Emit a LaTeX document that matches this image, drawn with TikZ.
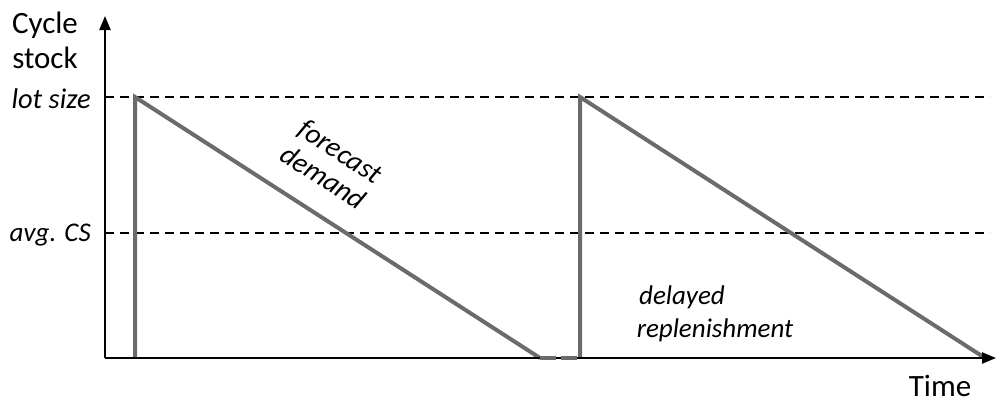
\documentclass[tikz,border=0pt]{standalone}
\usepackage{fontspec}
\setmainfont{Carlito}
\usetikzlibrary{arrows.meta}
\definecolor{saw}{HTML}{6B6B6B}
\tikzset{
  axis/.style={line width=2.2pt,-{Triangle[length=14pt,width=11pt]}},
  refline/.style={line width=1.8pt,dash pattern=on 9pt off 6pt},
  sawline/.style={line width=4pt,draw=saw},
  lbl/.style={font=\fontsize{31}{35}\selectfont,inner sep=0pt},
  ilbl/.style={font=\fontsize{27}{31}\selectfont\itshape,inner sep=0pt},
}
\begin{document}
\begin{tikzpicture}[x=1pt,y=-1pt]
\useasboundingbox (0,0) rectangle (996,407);
% coordinates
\coordinate (o) at (105,358);
\coordinate (ytop) at (105,16);
\coordinate (xend) at (996,358);
\coordinate (l1) at (105,97);
\coordinate (l2) at (990,97);
\coordinate (a1) at (105,233);
\coordinate (a2) at (990,233);
\coordinate (b1) at (135,358);
\coordinate (t1) at (135,97);
\coordinate (e1) at (540,358);
\coordinate (g1) at (578,358);
\coordinate (b2) at (580,358);
\coordinate (t2) at (580,97);
\coordinate (e2) at (985,358);
% reference lines
\draw[refline] (l1) -- (l2);
\draw[refline] (a1) -- (a2);
% sawtooth
\draw[sawline,line join=miter] (b1) -- (t1) -- (e1);
\draw[sawline,line join=miter] (b2) -- (t2) -- (e2);
% axes
\draw[axis] (o) -- (ytop);
\draw[axis] (o) -- (xend);
% gap on axis
\draw[line width=4pt,draw=saw,dash pattern=on 16pt off 5pt on 16pt off 5pt] (e1) -- (g1);
% labels
\node[lbl,align=center] (ylab) at (45,40) {Cycle\\stock};
\node[ilbl,anchor=east,font=\fontsize{28.5}{31}\selectfont\itshape] (lotlab) at (91,99) {lot size};
\node[ilbl,anchor=east] (avglab) at (91,235) {avg. CS};
\node[ilbl,align=center,rotate=-33,font=\fontsize{28.5}{31}\selectfont\itshape] (fd) at (332,164) {forecast\\demand};
\node[ilbl] (del) at (682,297) {delayed};
\node[ilbl] (rep) at (715,330) {replenishment};
\node[lbl] (tlab) at (940,386) {Time};
\end{tikzpicture}
\end{document}
